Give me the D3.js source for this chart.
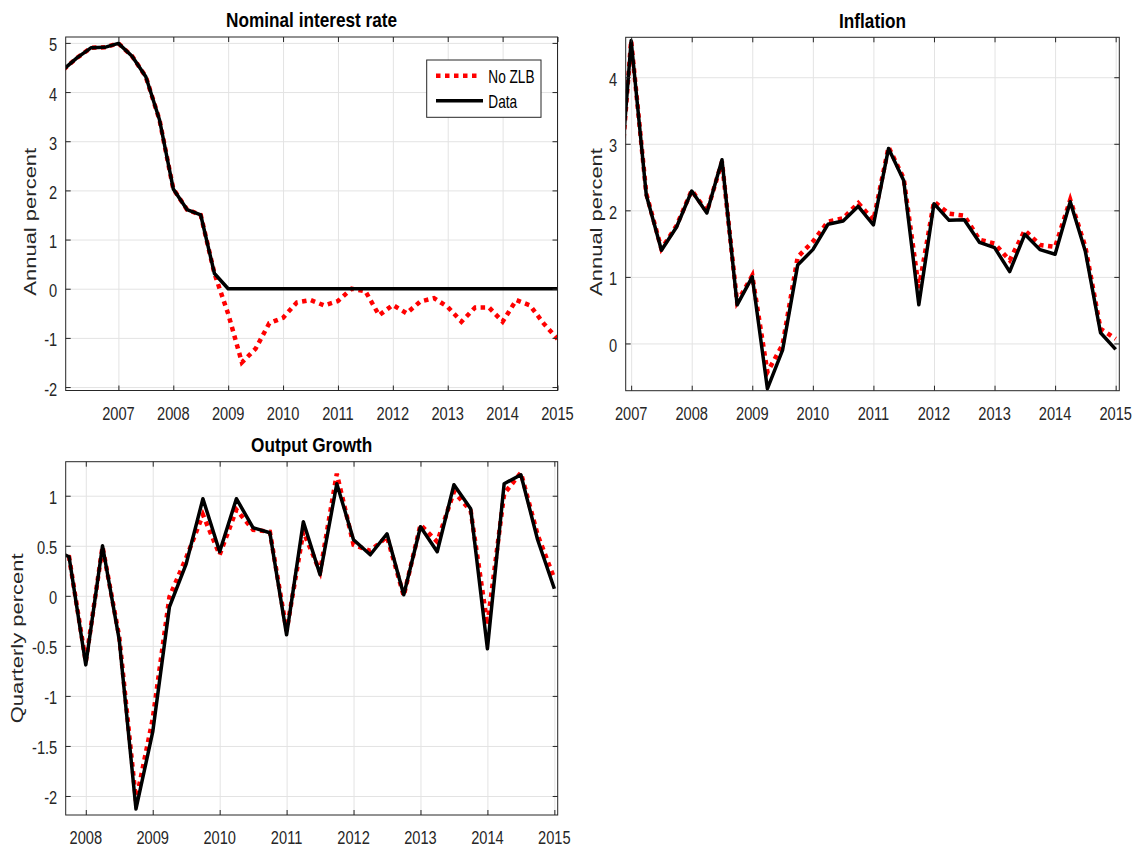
<!DOCTYPE html>
<html>
<head>
<meta charset="utf-8">
<script src="https://cdn.jsdelivr.net/npm/d3@7"></script>
<style>
  body { margin: 0; background: #fff; }
  svg { font-family: "Liberation Sans", Arial, Helvetica, sans-serif; }
  .sq  { transform-box: fill-box; transform-origin: center;       transform: scaleX(0.77); }
  .sqr { transform-box: fill-box; transform-origin: right center; transform: scaleX(0.77); }
  .sql { transform-box: fill-box; transform-origin: left center;  transform: scaleX(0.78); }
  .sqt { transform-box: fill-box; transform-origin: center;       transform: scaleX(0.86); }
  .sqy { transform-box: fill-box; transform-origin: center;       transform: scaleY(0.72); }
</style>
</head>
<body>
<svg width="1142" height="853"></svg>
<script>
// quarterly dates (year fractions)
const rateDates = [2006, 2006.25, 2006.5, 2006.75, 2007, 2007.25, 2007.5, 2007.75,
  2008, 2008.25, 2008.5, 2008.75, 2009, 2009.25, 2009.5, 2009.75, 2010, 2010.25, 2010.5, 2010.75,
  2011, 2011.25, 2011.5, 2011.75, 2012, 2012.25, 2012.5, 2012.75, 2013, 2013.25, 2013.5, 2013.75,
  2014, 2014.25, 2014.5, 2014.75, 2015]
const rateData = [4.46, 4.70, 4.90, 4.91, 4.99, 4.73, 4.31, 3.43, 2.03, 1.61, 1.50, 0.31,
  0, 0, 0, 0, 0, 0, 0, 0, 0, 0, 0, 0, 0, 0, 0, 0, 0, 0, 0, 0, 0, 0, 0, 0, 0]
const rateNoZLB = [4.46, 4.70, 4.90, 4.91, 4.99, 4.73, 4.31, 3.43, 2.03, 1.61, 1.50, 0.31,
  -0.51, -1.50, -1.22, -0.70, -0.59, -0.28, -0.23, -0.34, -0.25, 0.00, -0.05, -0.54,
  -0.33, -0.50, -0.26, -0.19, -0.37, -0.67, -0.38, -0.38, -0.67, -0.23, -0.34, -0.71, -1.02]

const inflDates = [2006.75, 2007, 2007.25, 2007.5, 2007.75,
  2008, 2008.25, 2008.5, 2008.75, 2009, 2009.25, 2009.5, 2009.75, 2010, 2010.25, 2010.5, 2010.75,
  2011, 2011.25, 2011.5, 2011.75, 2012, 2012.25, 2012.5, 2012.75, 2013, 2013.25, 2013.5, 2013.75,
  2014, 2014.25, 2014.5, 2014.75, 2015]
const inflData = [1.60, 4.55, 2.23, 1.40, 1.75, 2.29, 1.96, 2.76, 0.58, 1.00, -0.68, -0.10,
  1.18, 1.41, 1.79, 1.84, 2.06, 1.78, 2.93, 2.45, 0.58, 2.10, 1.85, 1.86, 1.52, 1.44, 1.08,
  1.64, 1.41, 1.34, 2.13, 1.38, 0.16, -0.09]
const inflNoZLB = [1.60, 4.55, 2.25, 1.42, 1.77, 2.30, 1.98, 2.73, 0.62, 1.02, -0.43, -0.02,
  1.30, 1.53, 1.83, 1.88, 2.11, 1.85, 2.95, 2.48, 0.83, 2.13, 1.95, 1.92, 1.56, 1.50, 1.25,
  1.70, 1.48, 1.45, 2.16, 1.45, 0.22, 0.07]

const outDates = [2007.5, 2007.75,
  2008, 2008.25, 2008.5, 2008.75, 2009, 2009.25, 2009.5, 2009.75, 2010, 2010.25, 2010.5, 2010.75,
  2011, 2011.25, 2011.5, 2011.75, 2012, 2012.25, 2012.5, 2012.75, 2013, 2013.25, 2013.5, 2013.75,
  2014, 2014.25, 2014.5, 2014.75, 2015]
const outData = [0.47, 0.39, -0.69, 0.50, -0.44, -2.13, -1.36, -0.11, 0.32, 0.97, 0.44, 0.97,
  0.68, 0.63, -0.39, 0.74, 0.21, 1.12, 0.56, 0.41, 0.62, 0.01, 0.69, 0.44, 1.11, 0.87,
  -0.53, 1.12, 1.21, 0.56, 0.07]
const outNoZLB = [0.47, 0.39, -0.66, 0.49, -0.41, -2.05, -1.23, -0.01, 0.38, 0.81, 0.41, 0.86,
  0.66, 0.64, -0.35, 0.64, 0.24, 1.22, 0.51, 0.45, 0.59, 0.00, 0.71, 0.54, 1.04, 0.85,
  -0.29, 1.02, 1.23, 0.61, 0.17]

const yearsA = [2007, 2008, 2009, 2010, 2011, 2012, 2013, 2014, 2015]
const yearsB = [2008, 2009, 2010, 2011, 2012, 2013, 2014, 2015]
const rateTicks = [-2, -1, 0, 1, 2, 3, 4, 5]
const inflTicks = [0, 1, 2, 3, 4]
const outTicks = [-2, -1.5, -1, -0.5, 0, 0.5, 1]
const legendLabels = ["No ZLB", "Data"]

const svg = d3.select("svg")
const ink = "#262626"

function panel (p) {
  var x = d3.scaleLinear().domain(p.xDomain).range([p.left, p.right]),
    y = d3.scaleLinear().domain(p.yDomain).range([p.bottom, p.top]),
    w = p.right - p.left,
    h = p.bottom - p.top,
    g = svg.append("g")

  // grid
  g.append("g").attr("transform", `translate(0,${p.bottom})`)
    .call(d3.axisBottom(x).tickValues(p.xTicks).tickSize(-h).tickSizeOuter(0).tickFormat(""))
    .call(a => a.select(".domain").remove())
    .selectAll("line").attr("stroke", "#e3e3e3")
  g.append("g").attr("transform", `translate(${p.left},0)`)
    .call(d3.axisLeft(y).tickValues(p.yTicks).tickSize(-w).tickSizeOuter(0).tickFormat(""))
    .call(a => a.select(".domain").remove())
    .selectAll("line").attr("stroke", "#e3e3e3")

  // lines
  const clipId = "clip" + p.id
  svg.append("clipPath").attr("id", clipId)
    .append("rect").attr("x", p.left).attr("y", p.top - 6).attr("width", w).attr("height", h + 12)

  const line = dates => d3.line().x((d, i) => x(dates[i])).y(d => y(d))

  g.append("path")
    .datum(p.noZlb)
    .attr("clip-path", `url(#${clipId})`)
    .attr("fill", "none")
    .attr("stroke", "#ff0000")
    .attr("stroke-width", 4.5)
    .attr("stroke-dasharray", "4.5,4.5")
    .attr("d", line(p.dates))

  g.append("path")
    .datum(p.data)
    .attr("clip-path", `url(#${clipId})`)
    .attr("fill", "none")
    .attr("stroke", "#000")
    .attr("stroke-width", 3.5)
    .attr("stroke-linejoin", "round")
    .attr("d", line(p.dates))

  // box + inward ticks on all sides
  g.append("rect")
    .attr("x", p.left).attr("y", p.top).attr("width", w).attr("height", h)
    .attr("fill", "none").attr("stroke", ink).attr("stroke-width", 1)

  const tickAxis = (axis, tr) => g.append("g").attr("transform", tr)
    .call(axis.tickSize(-5).tickSizeOuter(0).tickFormat(""))
    .call(a => a.select(".domain").remove())
    .selectAll("line").attr("stroke", ink)
  tickAxis(d3.axisBottom(x).tickValues(p.xTicks), `translate(0,${p.bottom})`)
  tickAxis(d3.axisTop(x).tickValues(p.xTicks), `translate(0,${p.top})`)
  tickAxis(d3.axisLeft(y).tickValues(p.yTicks), `translate(${p.left},0)`)
  tickAxis(d3.axisRight(y).tickValues(p.yTicks), `translate(${p.right},0)`)

  // tick labels
  g.selectAll(".xl").data(p.xTicks).join("text")
    .attr("class", "sq")
    .attr("x", d => x(d)).attr("y", p.bottom + 29.5)
    .attr("text-anchor", "middle")
    .attr("font-size", 19).attr("fill", ink)
    .text(d => d)
  g.selectAll(".yl").data(p.yTicks).join("text")
    .attr("class", "sqr")
    .attr("x", p.left - 8.5).attr("y", d => y(d) + 8.5)
    .attr("text-anchor", "end")
    .attr("font-size", 19).attr("fill", ink)
    .text(d => String(d))

  // title
  g.append("text")
    .attr("class", "sqt")
    .attr("x", (p.left + p.right) / 2).attr("y", p.top - 9.7)
    .attr("text-anchor", "middle")
    .attr("font-size", 20).attr("font-weight", "bold").attr("fill", "#000")
    .text(p.title)

  // y label
  g.append("g")
    .attr("transform", `translate(${p.ylabelX},${(p.top + p.bottom) / 2 + p.ylabelDy}) rotate(-90)`)
    .append("text")
    .attr("class", "sqy")
    .attr("text-anchor", "middle")
    .attr("dy", "0.35em")
    .attr("font-size", 22).attr("fill", ink)
    .text(p.ylabel)

  if (p.legend) {
    const lg = g.append("g")
    lg.append("rect")
      .attr("x", 426.7).attr("y", 60).attr("width", 114.3).attr("height", 57.3)
      .attr("fill", "#fff").attr("stroke", ink).attr("stroke-width", 1)
    const items = lg.selectAll(".li").data(legendLabels).join("g")
      .attr("transform", (d, i) => `translate(0,${75.7 + i * 25})`)
    items.append("line")
      .attr("x1", 436).attr("x2", (d, i) => i === 0 ? 477 : 483)
      .attr("stroke", (d, i) => i === 0 ? "#ff0000" : "#000")
      .attr("stroke-width", (d, i) => i === 0 ? 4.5 : 3.5)
      .attr("stroke-dasharray", (d, i) => i === 0 ? "4.5,4.5" : null)
    items.append("text")
      .attr("class", "sql")
      .attr("x", 488.3).attr("y", 7.6)
      .attr("font-size", 17.5).attr("fill", "#000")
      .text(d => d)
  }
}

panel({
  id: 1, left: 65.7, right: 557.5, top: 37, bottom: 390.5,
  xDomain: [2006.04, 2015], yDomain: [-2.07, 5.12],
  xTicks: yearsA, yTicks: rateTicks,
  dates: rateDates, data: rateData, noZlb: rateNoZLB,
  title: "Nominal interest rate", ylabel: "Annual percent", ylabelX: 30, ylabelDy: 8, legend: true
})
panel({
  id: 2, left: 625.7, right: 1119.3, top: 37.3, bottom: 390.7,
  xDomain: [2006.91, 2015.06], yDomain: [-0.71, 4.60],
  xTicks: yearsA, yTicks: inflTicks,
  dates: inflDates, data: inflData, noZlb: inflNoZLB,
  title: "Inflation", ylabel: "Annual percent", ylabelX: 596, ylabelDy: 8
})
panel({
  id: 3, left: 65.7, right: 557.7, top: 461.7, bottom: 815,
  xDomain: [2007.70, 2015.05], yDomain: [-2.19, 1.34],
  xTicks: yearsB, yTicks: outTicks,
  dates: outDates, data: outData, noZlb: outNoZLB,
  title: "Output Growth", ylabel: "Quarterly percent", ylabelX: 17.5, ylabelDy: 0
})
</script>
</body>
</html>
